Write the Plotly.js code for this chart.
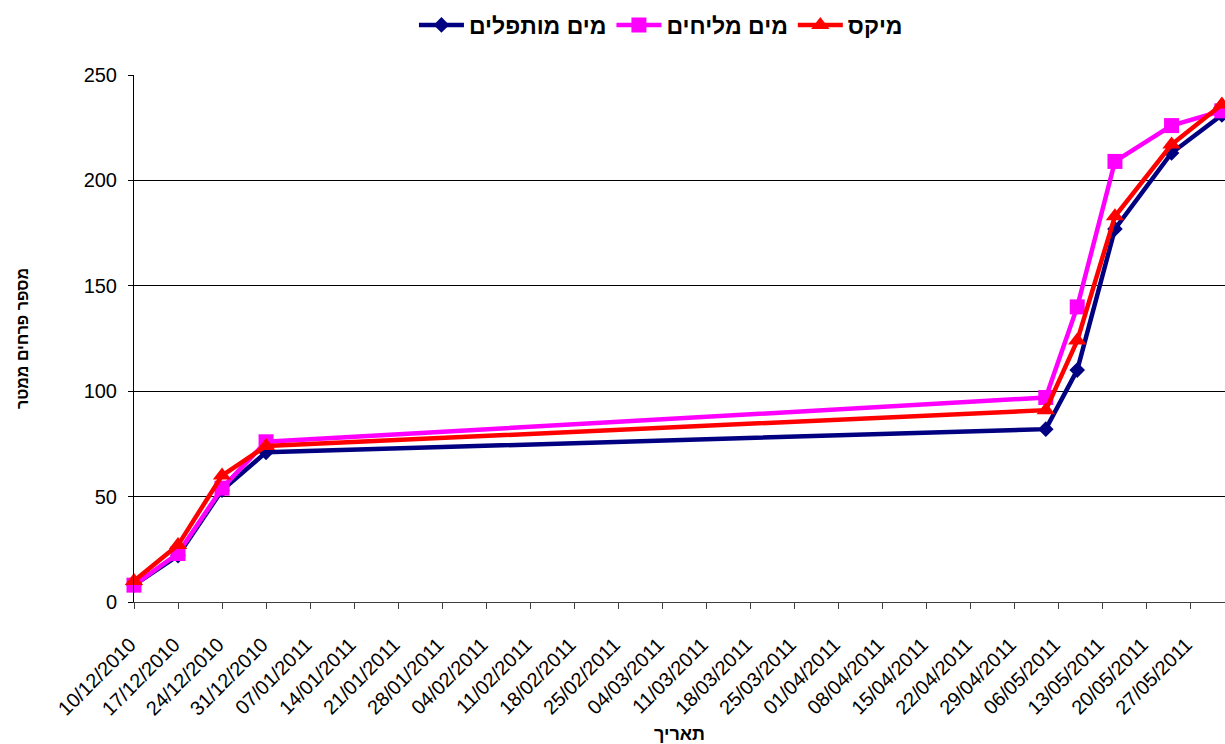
<!DOCTYPE html>
<html>
<head>
<meta charset="utf-8">
<script src="https://cdn.plot.ly/plotly-3.0.1.min.js"></script>
<style>
  html, body { margin: 0; padding: 0; background: #fff; overflow: hidden; }
  #chart { width: 1225px; height: 744px; }
</style>
</head>
<body>
<div id="chart"></div>
<script>
const dates = [
  '2010-12-10', '2010-12-17', '2010-12-24', '2010-12-31',
  '2011-05-04', '2011-05-09', '2011-05-15', '2011-05-24', '2011-06-01'
];
// Series values
const desalinated = [8, 22, 53, 71, 82, 110, 177, 213, 231];   // מים מותפלים
const brackish    = [8, 23, 54, 76, 97, 140, 209, 226, 233];   // מים מליחים
const mix         = [10, 27, 60, 74, 91, 124, 183, 217, 236];  // מיקס

const seriesNames = ['מים מותפלים', 'מים מליחים', 'מיקס'];
const xTitle = 'תאריך';
const yTitle = 'מספר פרחים ממטר';

const FONT = 'Arial, "Liberation Sans", "DejaVu Sans", sans-serif';

const traces = [
  {
    x: dates, y: desalinated, name: seriesNames[0], type: 'scatter', mode: 'lines+markers',
    line: { color: '#000080', width: 4.5 },
    marker: { symbol: 'diamond', size: 12, color: '#000080', line: { width: 0 } },
    cliponaxis: false
  },
  {
    x: dates, y: brackish, name: seriesNames[1], type: 'scatter', mode: 'lines+markers',
    line: { color: '#FF00FF', width: 4.5 },
    marker: { symbol: 'square', size: 15, color: '#FF00FF', line: { width: 0 } },
    cliponaxis: false
  },
  {
    x: dates, y: mix, name: seriesNames[2], type: 'scatter', mode: 'lines+markers',
    line: { color: '#FF0000', width: 4.5 },
    marker: { symbol: 'triangle-up', size: 16, color: '#FF0000', line: { width: 0 } },
    cliponaxis: false
  }
];

const layout = {
  width: 1225,
  height: 744,
  margin: { l: 134, r: 0, t: 75, b: 142, pad: 0 },
  paper_bgcolor: '#ffffff',
  plot_bgcolor: '#ffffff',
  font: { family: FONT, size: 19, color: '#000' },
  showlegend: true,
  legend: {
    orientation: 'h',
    x: 0.483, xanchor: 'center',
    y: 1.095, yanchor: 'middle',
    itemwidth: 45,
    font: { family: FONT, size: 23, weight: 'bold', color: '#000' },
    itemclick: false
  },
  xaxis: {
    type: 'date',
    range: ['2010-12-10', '2011-06-01 12:00'],
    tick0: '2010-12-10',
    dtick: 7 * 24 * 3600 * 1000,
    tickformat: '%d/%m/%Y',
    tickangle: -45,
    ticklabelstandoff: 16,
    ticklabelshift: -4,
    tickfont: { family: FONT, size: 20, color: '#000' },
    showline: true, linecolor: '#404040', linewidth: 1,
    ticks: 'outside', ticklen: 6, tickcolor: '#404040', tickwidth: 1,
    showgrid: false, zeroline: false,
    title: { text: xTitle, standoff: 16, font: { family: FONT, size: 18, weight: 'bold', color: '#000' } }
  },
  yaxis: {
    range: [0, 250],
    tick0: 0, dtick: 50,
    ticklabelstandoff: 7,
    tickfont: { family: FONT, size: 20, color: '#000' },
    showline: true, linecolor: '#000', linewidth: 1,
    ticks: 'outside', ticklen: 5, tickcolor: '#000', tickwidth: 1,
    showgrid: true, gridcolor: '#000', gridwidth: 1,
    zeroline: false,
    title: { text: yTitle, standoff: 51, font: { family: FONT, size: 16, weight: 'bold', color: '#000' } }
  }
};

Plotly.newPlot('chart', traces, layout, { displayModeBar: false, staticPlot: true });
</script>
</body>
</html>
